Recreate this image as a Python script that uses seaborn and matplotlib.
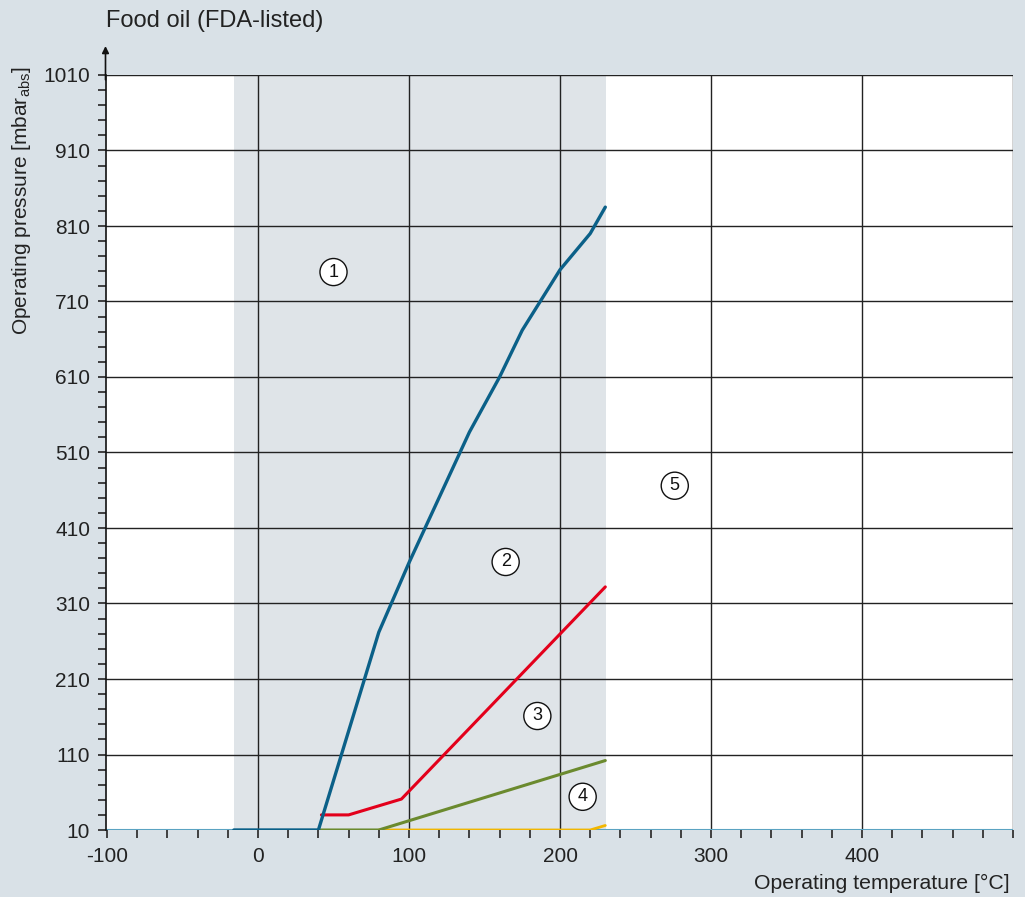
import numpy as np
import matplotlib
matplotlib.use('Agg')
import matplotlib.pyplot as plt
import seaborn as sns

# Curve data (temperature in °C, pressure in mbar abs)
blue_t = [-16, 40, 80, 100, 140, 160, 175, 200, 220, 230]
blue_p = [10, 10, 272, 364, 537, 610, 672, 752, 800, 835]
red_t = [42, 60, 95, 230]
red_p = [30, 30, 51, 332]
green_t = [40, 80, 230]
green_p = [10, 10, 102]
yellow_t = [80, 220, 230]
yellow_p = [10, 10, 16]

# Region labels
region_labels = ['1', '2', '3', '4', '5']
region_t = [50, 164, 185, 215, 276]
region_p = [749, 365, 161, 54, 466]

x_ticks = [-100, 0, 100, 200, 300, 400]
y_ticks = list(range(10, 1011, 100))

sns.set_theme(style='white')
plt.rcParams['font.family'] = ['Liberation Sans', 'DejaVu Sans']
plt.rcParams['mathtext.fontset'] = 'custom'
plt.rcParams['mathtext.rm'] = 'Liberation Sans'
plt.rcParams['mathtext.it'] = 'Liberation Sans'
plt.rcParams['axes.unicode_minus'] = False

bg = '#d9e1e7'
fig = plt.figure(figsize=(10.25, 8.97), dpi=100, facecolor=bg)
ax = fig.add_axes([105.5 / 1025, 67 / 897, 907.5 / 1025, 755 / 897])
ax.set_facecolor('white')
ax.set_xlim(-101, 500)
ax.set_ylim(10, 1010)

# shaded region of the valid range
ax.axvspan(-16, 230.5, color='#dfe4e8', zorder=0, lw=0)

# grid
for xv in [0, 100, 200, 300, 400, 500]:
    ax.axvline(xv, color='#222222', lw=1, zorder=1)
for yv in y_ticks[1:]:
    ax.axhline(yv, color='#222222', lw=1, zorder=1)

# x axis line at the bottom (light blue)
ax.axhline(10, color='#5aa3c2', lw=1.5, zorder=2)

sns.lineplot(x=yellow_t, y=yellow_p, ax=ax, color='#f2b600', lw=2, estimator=None, sort=False, zorder=3)
sns.lineplot(x=green_t, y=green_p, ax=ax, color='#6b8a2e', lw=2.2, estimator=None, sort=False, zorder=4)
sns.lineplot(x=red_t, y=red_p, ax=ax, color='#e3001b', lw=2.2, estimator=None, sort=False, zorder=5)
sns.lineplot(x=blue_t, y=blue_p, ax=ax, color='#0b6088', lw=2.4, estimator=None, sort=False, zorder=6)

for lab, t, p in zip(region_labels, region_t, region_p):
    ax.text(t, p, lab, ha='center', va='center', fontsize=13, color='#111111', zorder=7,
            bbox=dict(boxstyle='circle,pad=0.28', fc='white', ec='#111111', lw=1))

# spines
for s in ['top', 'right']:
    ax.spines[s].set_visible(False)
ax.spines['bottom'].set_visible(False)
ax.spines['left'].set_color('#111111')
ax.spines['left'].set_linewidth(1.2)
ax.annotate('', xy=(0, 1.042), xytext=(0, 0.99), xycoords='axes fraction',
            arrowprops=dict(arrowstyle='-|>', color='#111111', lw=1.2, mutation_scale=10))

ax.set_xticks(x_ticks)
ax.set_xticks(np.arange(-100, 501, 20), minor=True)
ax.set_yticks(y_ticks)
ax.set_yticks(np.arange(10, 1011, 20), minor=True)
ax.tick_params(axis='both', which='both', direction='out', length=6, width=1.3, color='#333333',
               labelsize=15, labelcolor='#222222')
ax.tick_params(axis='x', which='both', bottom=True, pad=6)
ax.tick_params(axis='y', which='both', left=True, pad=5)

fig.text(106 / 1025, 1 - 21 / 897, 'Food oil (FDA-listed)', fontsize=17, color='#222222',
         ha='left', va='center')
fig.text(22 / 1025, 1 - 201 / 897, 'Operating pressure [mbar$_{\\mathrm{abs}}$]', fontsize=15,
         color='#222222', rotation=90, ha='center', va='center')
fig.text(1010 / 1025, 1 - 883 / 897, 'Operating temperature [°C]', fontsize=15.3,
         color='#222222', ha='right', va='center')

fig.savefig('out.png', dpi=100, facecolor=bg)
